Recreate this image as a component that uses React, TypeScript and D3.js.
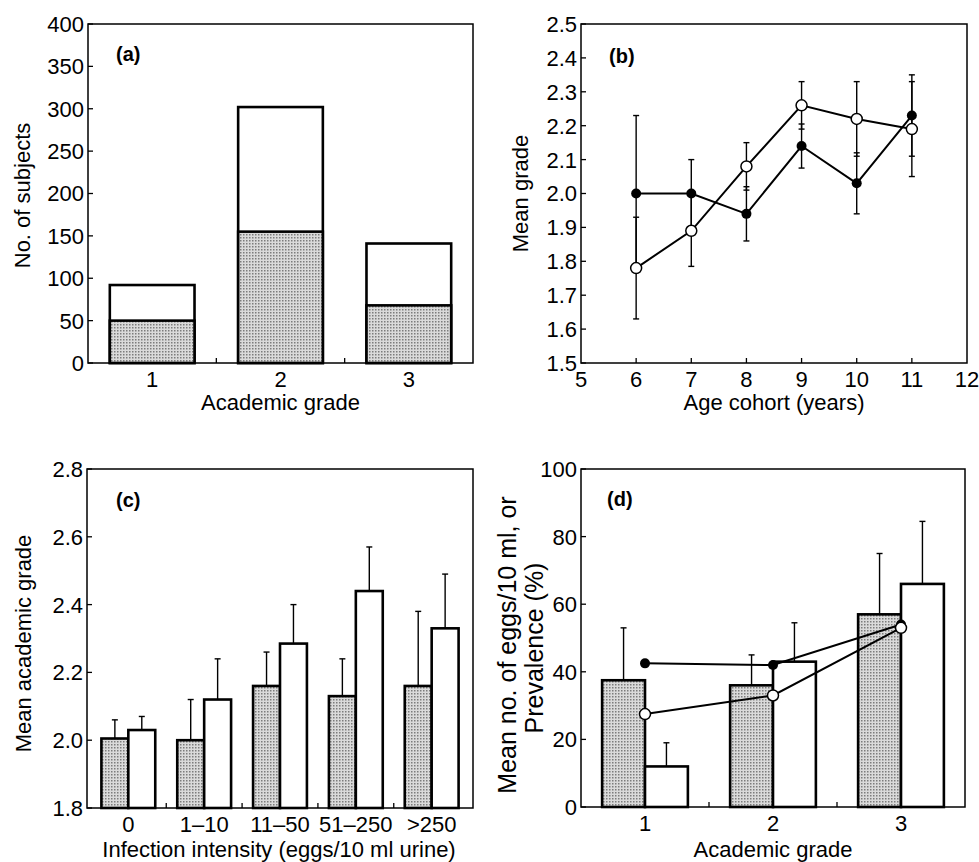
import React from "react";
import * as d3 from "d3";

const FONT = "'Liberation Sans', Arial, Helvetica, sans-serif";

// (a) number of subjects per academic grade
const grades = [1, 2, 3];
const subjectsTotal = [92, 302, 141];
const subjectsInfected = [50, 155, 68];
const subjectTicks = [0, 50, 100, 150, 200, 250, 300, 350, 400];

// (b) mean grade by age cohort
const ages = [6, 7, 8, 9, 10, 11];
const gradeFilled = [2.0, 2.0, 1.94, 2.14, 2.03, 2.23];
const gradeFilledErr = [0.23, 0.1, 0.08, 0.065, 0.09, 0.12];
const gradeOpen = [1.78, 1.89, 2.08, 2.26, 2.22, 2.19];
const gradeOpenErr = [0.15, 0.105, 0.07, 0.07, 0.11, 0.14];
const ageTicks = [5, 6, 7, 8, 9, 10, 11, 12];
const meanGradeTicks = [1.5, 1.6, 1.7, 1.8, 1.9, 2.0, 2.1, 2.2, 2.3, 2.4, 2.5];

// (c) mean academic grade by infection intensity
const intensityCats = ["0", "1\u201310", "11\u201350", "51\u2013250", ">250"];
const intensityShaded = [2.005, 2.0, 2.16, 2.13, 2.16];
const intensityShadedErr = [0.055, 0.12, 0.1, 0.11, 0.22];
const intensityWhite = [2.03, 2.12, 2.285, 2.44, 2.33];
const intensityWhiteErr = [0.04, 0.12, 0.115, 0.13, 0.16];
const academicTicks = [1.8, 2.0, 2.2, 2.4, 2.6, 2.8];

// (d) eggs / prevalence by academic grade
const eggsShaded = [37.5, 36, 57];
const eggsShadedErr = [15.5, 9, 18];
const eggsWhite = [12, 43, 66];
const eggsWhiteErr = [7, 11.5, 18.5];
const prevFilled = [42.5, 42, 54];
const prevOpen = [27.5, 33, 53];
const percentTicks = [0, 20, 40, 60, 80, 100];

const TICK = 5;
const TICK_FONT = 22;
const PANEL_FONT = 20;

function Frame({ x0, x1, y0, y1 }: any) {
  return (
    <rect x={x0} y={y0} width={x1 - x0} height={y1 - y0} fill="none" stroke="#000" strokeWidth={1.5} />
  );
}

function YAxis({ scale, values, x, fmt }: any) {
  return (
    <g>
      {values.map((v: number) => (
        <g key={v}>
          <line x1={x} x2={x + TICK} y1={scale(v)} y2={scale(v)} stroke="#000" strokeWidth={1.3} />
          <text x={x - 4} y={scale(v)} dy="0.36em" textAnchor="end" fontSize={TICK_FONT}>
            {fmt(v)}
          </text>
        </g>
      ))}
    </g>
  );
}

function XTicks({ positions, y }: any) {
  return (
    <g>
      {positions.map((p: number, i: number) => (
        <line key={i} x1={p} x2={p} y1={y} y2={y - TICK} stroke="#000" strokeWidth={1.3} />
      ))}
    </g>
  );
}

function XLabels({ items, y }: any) {
  return (
    <g>
      {items.map((d: any, i: number) => (
        <text key={i} x={d.x} y={y + 24} textAnchor="middle" fontSize={TICK_FONT}>
          {d.label}
        </text>
      ))}
    </g>
  );
}

function ErrUp({ x, y0, y1 }: any) {
  return (
    <g stroke="#000" strokeWidth={1.4}>
      <line x1={x} x2={x} y1={y0} y2={y1} />
      <line x1={x - 3} x2={x + 3} y1={y1} y2={y1} />
    </g>
  );
}

function ErrBoth({ x, yLo, yHi }: any) {
  return (
    <g stroke="#000" strokeWidth={1.4}>
      <line x1={x} x2={x} y1={yLo} y2={yHi} />
      <line x1={x - 3} x2={x + 3} y1={yLo} y2={yLo} />
      <line x1={x - 3} x2={x + 3} y1={yHi} y2={yHi} />
    </g>
  );
}

function PanelA() {
  const x0 = 88, x1 = 473, y0 = 24, y1 = 363;
  const x = d3.scaleLinear().domain([0.5, 3.5]).range([x0, x1]);
  const y = d3.scaleLinear().domain([0, 400]).range([y1, y0]);
  const half = 0.33;
  return (
    <g>
      {grades.map((g, i) => (
        <g key={g}>
          <rect x={x(g - half)} y={y(subjectsTotal[i])} width={x(g + half) - x(g - half)}
            height={y(0) - y(subjectsTotal[i])} fill="#fff" stroke="#000" strokeWidth={2.6} />
          <rect x={x(g - half)} y={y(subjectsInfected[i])} width={x(g + half) - x(g - half)}
            height={y(0) - y(subjectsInfected[i])} fill="url(#stipple)" stroke="#000" strokeWidth={2.6} />
        </g>
      ))}
      <Frame x0={x0} x1={x1} y0={y0} y1={y1} />
      <YAxis scale={y} values={subjectTicks} x={x0} fmt={(v: number) => String(v)} />
      <XTicks positions={[1.5, 2.5].map(x)} y={y1} />
      <XLabels items={grades.map((g) => ({ x: x(g), label: g }))} y={y1} />
      <text x={116} y={61} fontSize={PANEL_FONT} fontWeight="bold">(a)</text>
      <text x={(x0 + x1) / 2} y={410} textAnchor="middle" fontSize={22}>Academic grade</text>
      <text transform={`translate(30,${(y0 + y1) / 2 + 2}) rotate(-90)`} textAnchor="middle" fontSize={22}>
        No. of subjects
      </text>
    </g>
  );
}

function PanelB() {
  const x0 = 581, x1 = 967, y0 = 24, y1 = 363;
  const x = d3.scaleLinear().domain([5, 12]).range([x0, x1]);
  const y = d3.scaleLinear().domain([1.5, 2.5]).range([y1, y0]);
  const line = d3.line<number>().x((_, i) => x(ages[i])).y((d) => y(d));
  return (
    <g>
      <path d={line(gradeFilled) || ""} fill="none" stroke="#000" strokeWidth={2} />
      <path d={line(gradeOpen) || ""} fill="none" stroke="#000" strokeWidth={2} />
      {ages.map((a, i) => (
        <g key={a}>
          <ErrBoth x={x(a)} yLo={y(gradeFilled[i] - gradeFilledErr[i])} yHi={y(gradeFilled[i] + gradeFilledErr[i])} />
          <ErrBoth x={x(a)} yLo={y(gradeOpen[i] - gradeOpenErr[i])} yHi={y(gradeOpen[i] + gradeOpenErr[i])} />
        </g>
      ))}
      {ages.map((a, i) => (
        <g key={"c" + a}>
          <circle cx={x(a)} cy={y(gradeFilled[i])} r={5} fill="#000" />
          <circle cx={x(a)} cy={y(gradeOpen[i])} r={5.5} fill="#fff" stroke="#000" strokeWidth={1.5} />
        </g>
      ))}
      <Frame x0={x0} x1={x1} y0={y0} y1={y1} />
      <YAxis scale={y} values={meanGradeTicks} x={x0} fmt={d3.format(".1f")} />
      <XTicks positions={ageTicks.slice(1, -1).map(x)} y={y1} />
      <XLabels items={ageTicks.map((a) => ({ x: x(a), label: a }))} y={y1} />
      <text x={609} y={63} fontSize={PANEL_FONT} fontWeight="bold">(b)</text>
      <text x={(x0 + x1) / 2} y={410} textAnchor="middle" fontSize={22}>Age cohort (years)</text>
      <text transform={`translate(528,${(y0 + y1) / 2}) rotate(-90)`} textAnchor="middle" fontSize={22}>
        Mean grade
      </text>
    </g>
  );
}

function PanelC() {
  const x0 = 87, x1 = 473, y0 = 469, y1 = 808;
  const x = d3.scaleBand().domain(intensityCats).range([x0, x1]).paddingInner(0.29).paddingOuter(0.19);
  const y = d3.scaleLinear().domain([1.8, 2.8]).range([y1, y0]);
  const bw = x.bandwidth() / 2;
  const gaps = intensityCats.slice(1).map((c) => (x(c) as number) - (x.step() - x.bandwidth()) / 2);
  return (
    <g>
      {intensityCats.map((c, i) => {
        const left = x(c) as number;
        return (
          <g key={c}>
            <ErrUp x={left + bw / 2} y0={y(intensityShaded[i])} y1={y(intensityShaded[i] + intensityShadedErr[i])} />
            <ErrUp x={left + bw * 1.5} y0={y(intensityWhite[i])} y1={y(intensityWhite[i] + intensityWhiteErr[i])} />
            <rect x={left} y={y(intensityShaded[i])} width={bw} height={y(1.8) - y(intensityShaded[i])}
              fill="url(#stipple)" stroke="#000" strokeWidth={2.6} />
            <rect x={left + bw} y={y(intensityWhite[i])} width={bw} height={y(1.8) - y(intensityWhite[i])}
              fill="#fff" stroke="#000" strokeWidth={2.6} />
          </g>
        );
      })}
      <Frame x0={x0} x1={x1} y0={y0} y1={y1} />
      <YAxis scale={y} values={academicTicks} x={x0} fmt={d3.format(".1f")} />
      <XTicks positions={gaps} y={y1} />
      <XLabels items={intensityCats.map((c) => ({ x: (x(c) as number) + bw, label: c }))} y={y1} />
      <text x={116} y={507} fontSize={PANEL_FONT} fontWeight="bold">(c)</text>
      <text x={(x0 + x1) / 2 - 1} y={857} textAnchor="middle" fontSize={22}>
        Infection intensity (eggs/10 ml urine)
      </text>
      <text transform={`translate(31,${(y0 + y1) / 2 + 5}) rotate(-90)`} textAnchor="middle" fontSize={22}>
        Mean academic grade
      </text>
    </g>
  );
}

function PanelD() {
  const x0 = 581, x1 = 965, y0 = 469, y1 = 807;
  const x = d3.scaleLinear().domain([0.5, 3.5]).range([x0, x1]);
  const y = d3.scaleLinear().domain([0, 100]).range([y1, y0]);
  const w = 0.335;
  const line = d3.line<number>().x((_, i) => x(grades[i])).y((d) => y(d));
  return (
    <g>
      {grades.map((g, i) => (
        <g key={g}>
          <ErrUp x={x(g - w / 2)} y0={y(eggsShaded[i])} y1={y(eggsShaded[i] + eggsShadedErr[i])} />
          <ErrUp x={x(g + w / 2)} y0={y(eggsWhite[i])} y1={y(eggsWhite[i] + eggsWhiteErr[i])} />
          <rect x={x(g - w)} y={y(eggsShaded[i])} width={x(g) - x(g - w)} height={y(0) - y(eggsShaded[i])}
            fill="url(#stipple)" stroke="#000" strokeWidth={2.6} />
          <rect x={x(g)} y={y(eggsWhite[i])} width={x(g + w) - x(g)} height={y(0) - y(eggsWhite[i])}
            fill="#fff" stroke="#000" strokeWidth={2.6} />
        </g>
      ))}
      <path d={line(prevFilled) || ""} fill="none" stroke="#000" strokeWidth={2} />
      <path d={line(prevOpen) || ""} fill="none" stroke="#000" strokeWidth={2} />
      {grades.map((g, i) => (
        <g key={"c" + g}>
          <circle cx={x(g)} cy={y(prevFilled[i])} r={5} fill="#000" />
          <circle cx={x(g)} cy={y(prevOpen[i])} r={5.5} fill="#fff" stroke="#000" strokeWidth={1.5} />
        </g>
      ))}
      <Frame x0={x0} x1={x1} y0={y0} y1={y1} />
      <YAxis scale={y} values={percentTicks} x={x0} fmt={(v: number) => String(v)} />
      <XTicks positions={[1.5, 2.5].map(x)} y={y1} />
      <XLabels items={grades.map((g) => ({ x: x(g), label: g }))} y={y1} />
      <text x={607} y={506} fontSize={PANEL_FONT} fontWeight="bold">(d)</text>
      <text x={(x0 + x1) / 2} y={857} textAnchor="middle" fontSize={22}>Academic grade</text>
      <text transform={`translate(516,${(y0 + y1) / 2 + 7}) rotate(-90)`} textAnchor="middle" fontSize={25}>
        Mean no. of eggs/10 ml, or
      </text>
      <text transform={`translate(543,${(y0 + y1) / 2 + 10}) rotate(-90)`} textAnchor="middle" fontSize={25}>
        Prevalence (%)
      </text>
    </g>
  );
}

export default function App() {
  return (
    <svg width={979} height={862} style={{ position: "absolute", left: 0, top: 0, background: "#fff" }}
      fontFamily={FONT}>
      <defs>
        <pattern id="stipple" width={3} height={3} patternUnits="userSpaceOnUse">
          <rect width={3} height={3} fill="#dadada" />
          <rect width={1.5} height={1.5} fill="#7c7c7c" />
        </pattern>
      </defs>
      <rect width={979} height={862} fill="#fff" />
      <PanelA />
      <PanelB />
      <PanelC />
      <PanelD />
    </svg>
  );
}
